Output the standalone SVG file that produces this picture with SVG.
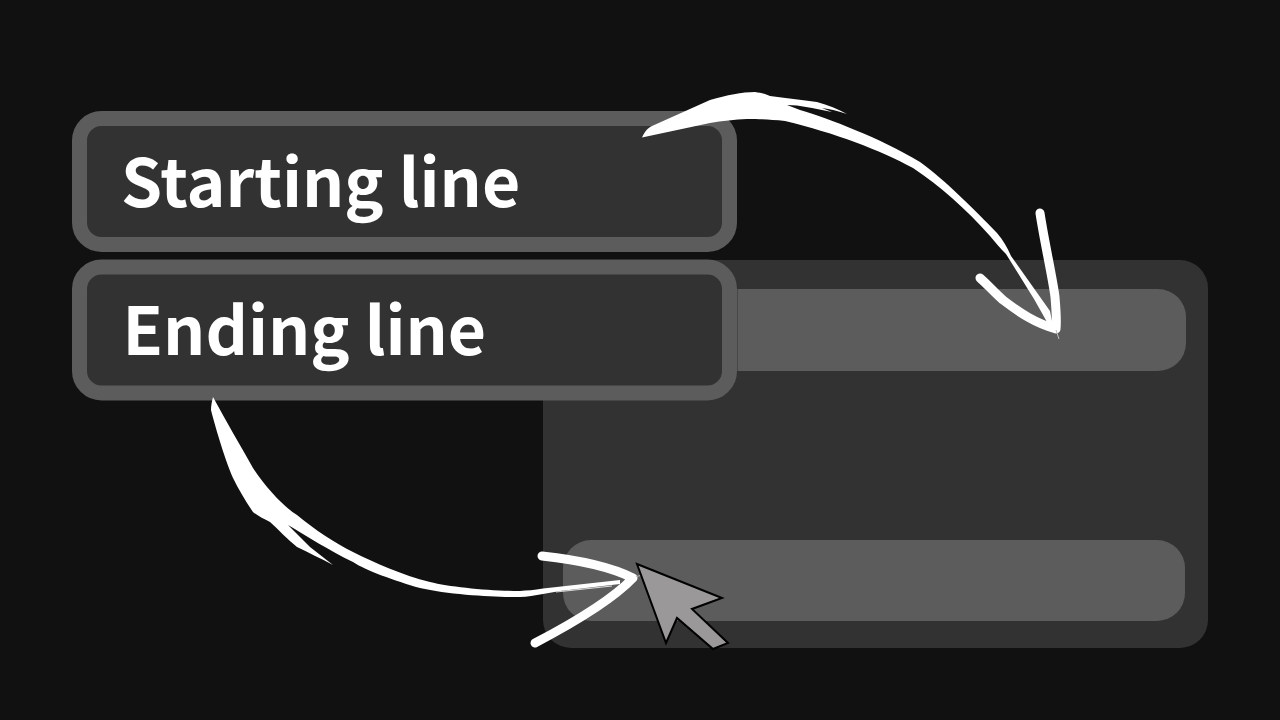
<svg xmlns="http://www.w3.org/2000/svg" width="1280" height="720" viewBox="0 0 1280 720">
<style>
.lbl{font-family:"Noto Sans CJK SC","Noto Sans",sans-serif;font-weight:700;font-size:66px;fill:#fff}
.box{fill:#323232;stroke:#5c5c5c;stroke-width:15}
.bar{fill:#5c5c5c}
.ink{fill:#fff;stroke:none}
.line{fill:none;stroke:#fff;stroke-linecap:round;stroke-linejoin:round}
.hair{fill:none;stroke:#fff;stroke-width:0.8}
</style>
<rect width="1280" height="720" fill="#111111"/>
<g id="panel">
<rect x="543" y="260" width="665" height="388" rx="28" fill="#323232"/>
<path class="bar" d="M737.500 289H1158A28 28 0 0 1 1186 317V343A28 28 0 0 1 1158 371H737.500Z"/>
<rect class="bar" x="563" y="540" width="622" height="81" rx="28"/>
</g>
<g id="node-start">
<rect class="box" x="79.500" y="118.500" width="650" height="126" rx="22"/>
<text class="lbl" x="121" y="206.500">Starting line</text>
</g>
<g id="node-end">
<rect class="box" x="79.500" y="267" width="650" height="126" rx="22"/>
<text class="lbl" x="122.500" y="355">Ending line</text>
</g>
<g id="connectors">
<g id="arrow-top">
<path class="ink" d="M642 137.500C645 131 648 128 652 126L710 100C727 95 742 92 755 92C762 93 766 94 770 96C785 98 802 100 817 102C828 105 838 109 847 114C838 111 830 109 822 108L832 112L812 108L797 105.500L787 105L800 110C830 119 880 138 920 162C945 180 975 210 997 233C1003 240 1007 247 1011 256L1050 311L1053 326L1047 322L1034 299L1006 254C1000 248 996 243 990 236C965 208 940 186 913 168C880 150 835 133 785 121C770 119.500 760 119 747 119C735 119.500 722 121 710 123Z"/>
<path class="hair" d="M1010 258L1049 316M1014 262L1040 302"/>
<path class="line" stroke-width="9" d="M1040 213C1044 240 1053 280 1055 297C1056 310 1057 320 1056 329C1035 323 1020 313 1003 300C995 293 988 285 980 278"/>
<path d="M1056 330L1059 339" stroke="#bbb" stroke-width="1"/>
</g>
<g id="arrow-bottom">
<path class="ink" d="M213 397C226 421 240 445 253 468C266 488 285 508 297 515C315 530 335 543 353 552C375 563 402 575 430 582C450 587 490 591 520 591C527 590.500 534 590 543 588.500L620 580L620 584L560 591L543 594C535 595.500 527 597 520 597C500 597.500 450 595 420 588C395 581 365 570 353 562C330 551 305 535 288 525L310 547L333 565C320 558 309 553 297 547C288 540 279 530 270 522C264 519 258 516 253 512C246 502 239 490 233 478C226 462 216 430 211 410C211 405 212 401 213 397Z"/>
<path class="hair" d="M548 590L600 584M556 592L612 586"/>
<path class="line" stroke-width="9" d="M542 556C570 559 605 564 633 578C612 600 577 621 535 643"/>
<path d="M636 576.500L641 575.500" stroke="#bbb" stroke-width="1"/>
</g>
</g>
<g id="cursor">
<path d="M637 564L722 598L692 609L728 643L713 649L677 618L666 643Z" fill="#9a9899" stroke="#000" stroke-width="2" stroke-linejoin="miter"/>
</g>
</svg>
